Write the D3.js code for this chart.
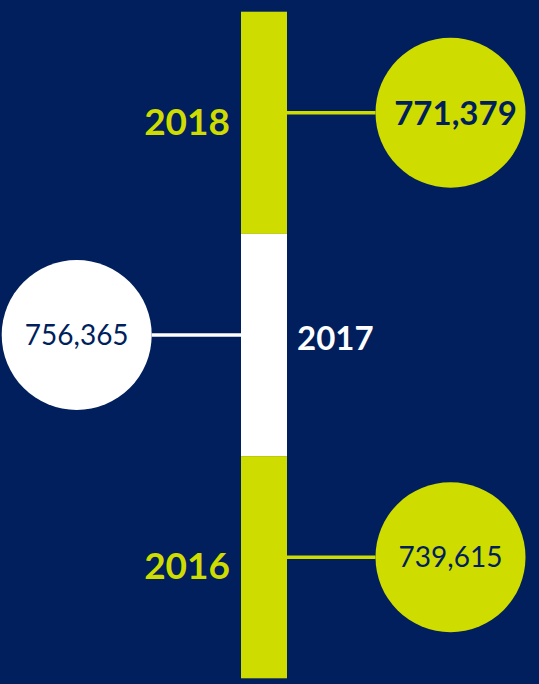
<!DOCTYPE html>
<html>
<head>
<meta charset="utf-8">
<script src="https://cdn.jsdelivr.net/npm/d3@7"></script>
<style>
  html, body { margin: 0; padding: 0; background: #001f5c; }
  svg { display: block; }
</style>
</head>
<body>
<svg id="chart"></svg>
<script>
// data
const years = ['2018', '2017', '2016']
const values = [771379, 756365, 739615]
const fills = ['#cedc00', '#ffffff', '#cedc00']
const sides = ['right', 'left', 'right']

const width = 539
const height = 684
const navy = '#001f5c'
const font = 'Lato, "Open Sans", sans-serif'

const svg = d3.select('#chart')
    .attr('width', width)
    .attr('height', height)

svg.append('rect')
    .attr('width', width)
    .attr('height', height)
    .attr('fill', navy)

// the timeline bar
const barX = 241
const barW = 46
const radius = 75

const y = d3.scaleBand()
    .domain(years)
    .range([11.7, 678.3])
    .paddingInner(0)

const anchorY = (d) => y(d) + y.bandwidth() * 0.455

const rows = years.map((year, i) => ({
    year,
    value: values[i],
    fill: fills[i],
    side: sides[i],
    bold: year === d3.max(years)
}))

const fmt = d3.format(',')

svg.append('g')
    .selectAll('rect')
    .data(rows)
    .join('rect')
    .attr('x', barX)
    .attr('y', (d) => y(d.year))
    .attr('width', barW)
    .attr('height', y.bandwidth())
    .attr('fill', (d) => d.fill)

const cx = (d) => d.side === 'right' ? 450.5 : 76.7

// connectors
svg.append('g')
    .selectAll('line')
    .data(rows)
    .join('line')
    .attr('x1', (d) => d.side === 'right' ? barX + barW : barX)
    .attr('x2', (d) => d.side === 'right' ? cx(d) - radius : cx(d) + radius)
    .attr('y1', (d) => anchorY(d.year))
    .attr('y2', (d) => anchorY(d.year))
    .attr('stroke', (d) => d.fill)
    .attr('stroke-width', 3.5)

// bubbles
const bubbles = svg.append('g')
    .selectAll('g')
    .data(rows)
    .join('g')
    .attr('transform', (d) => `translate(${cx(d)}, ${anchorY(d.year)})`)

bubbles.append('circle')
    .attr('r', radius)
    .attr('fill', (d) => d.fill)

bubbles.append('text')
    .attr('text-anchor', 'middle')
    .attr('x', (d) => d.bold ? 5 : 0)
    .attr('y', (d) => d.bold ? 12 : 10)
    .attr('font-family', font)
    .attr('font-size', (d) => d.bold ? 33 : 28)
    .attr('font-weight', (d) => d.bold ? 700 : 400)
    .attr('fill', navy)
    .text((d) => fmt(d.value))

// year labels, opposite the bubble
svg.append('g')
    .selectAll('text')
    .data(rows)
    .join('text')
    .attr('x', (d) => d.side === 'right' ? barX - 11 : barX + barW + 10)
    .attr('y', (d) => anchorY(d.year) + (d.side === 'right' ? 22 : 15))
    .attr('text-anchor', (d) => d.side === 'right' ? 'end' : 'start')
    .attr('font-family', font)
    .attr('font-size', (d) => d.side === 'right' ? 37 : 33)
    .attr('font-weight', 700)
    .attr('fill', (d) => d.fill)
    .text((d) => d.year)
</script>
</body>
</html>
